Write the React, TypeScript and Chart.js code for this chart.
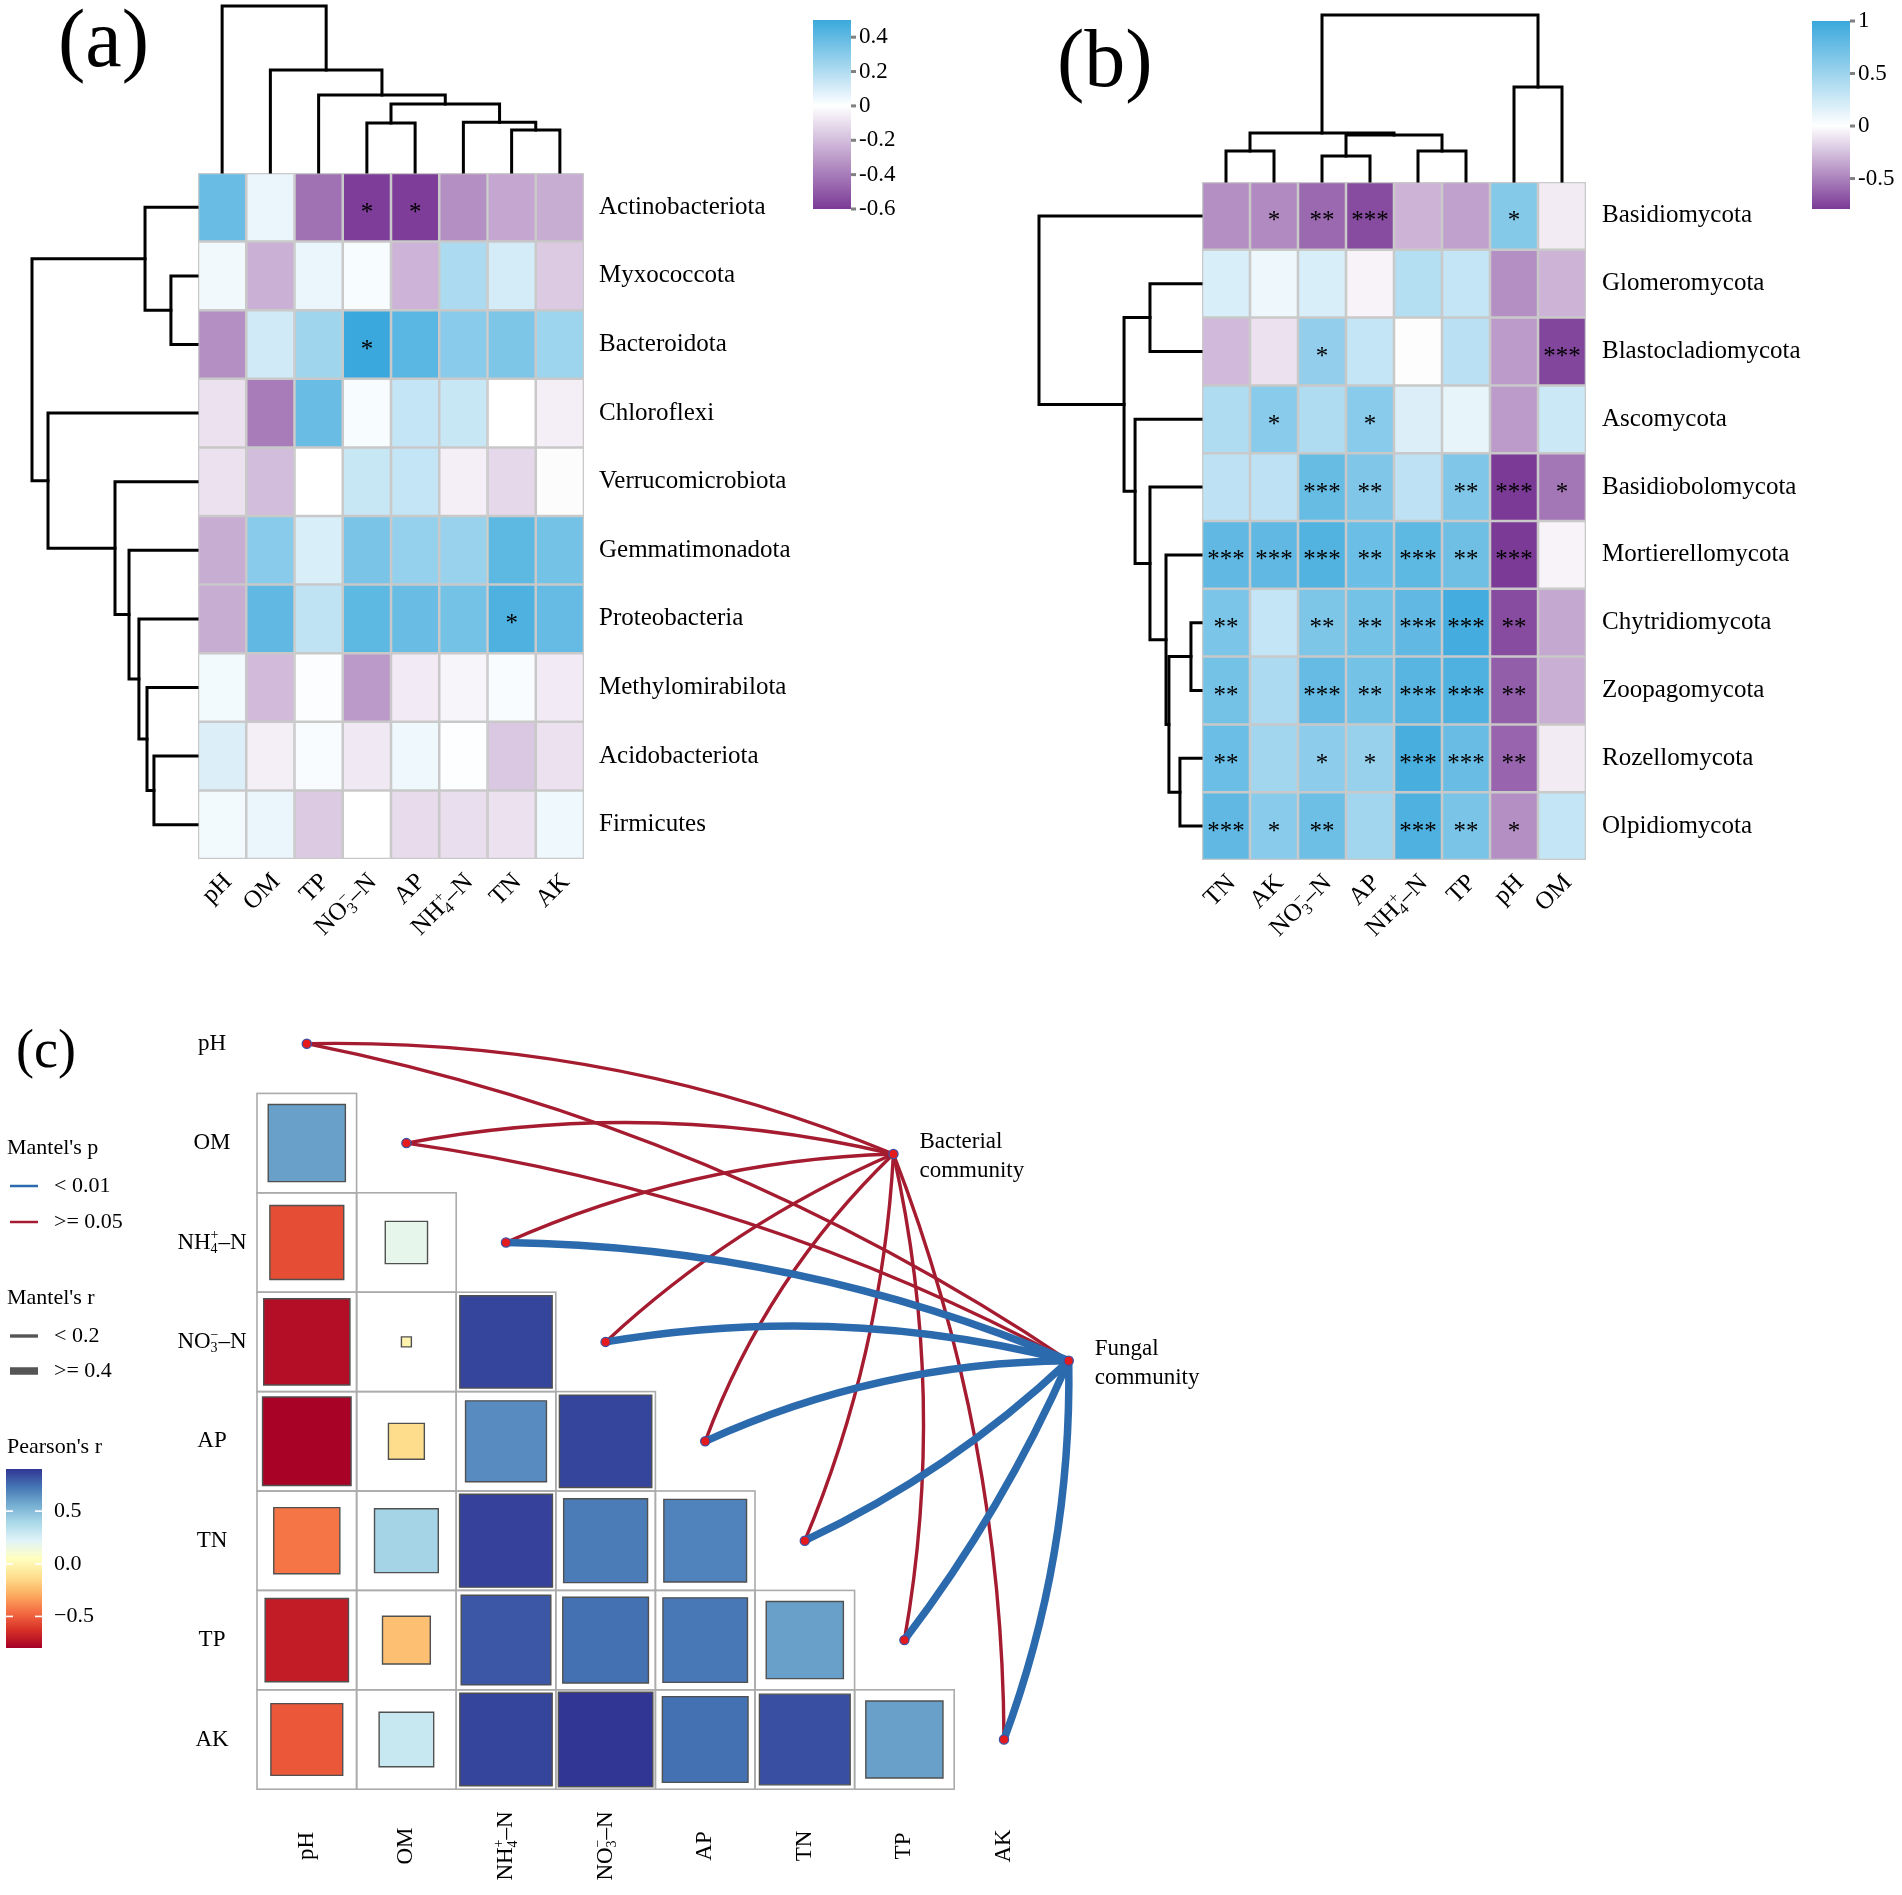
import React, { useEffect, useRef } from 'react';
import { Chart, registerables } from 'chart.js';

Chart.register(...registerables);

const W = 1902;
const H = 1895;
const SERIF = '"Liberation Serif", "Times New Roman", Times, serif';

// ---------------- panel (a): bacteria ----------------
const aColumns = ['pH', 'OM', 'TP', 'NO3−–N', 'AP', 'NH4+–N', 'TN', 'AK'];
const aRows = ['Actinobacteriota', 'Myxococcota', 'Bacteroidota', 'Chloroflexi', 'Verrucomicrobiota', 'Gemmatimonadota', 'Proteobacteria', 'Methylomirabilota', 'Acidobacteriota', 'Firmicutes'];
const aValues = [
  [0.38, 0.05, -0.43, -0.59, -0.59, -0.34, -0.27, -0.25],
  [0.035, -0.24, 0.05, 0.02, -0.23, 0.21, 0.11, -0.16],
  [-0.34, 0.12, 0.24, 0.5, 0.42, 0.3, 0.33, 0.25],
  [-0.09, -0.4, 0.38, 0.02, 0.15, 0.14, 0.0, -0.05],
  [-0.09, -0.2, 0.0, 0.14, 0.15, -0.05, -0.12, -0.01],
  [-0.25, 0.3, 0.1, 0.34, 0.27, 0.26, 0.41, 0.35],
  [-0.25, 0.4, 0.16, 0.41, 0.38, 0.35, 0.45, 0.39],
  [0.03, -0.21, 0.01, -0.31, -0.06, -0.03, 0.015, -0.06],
  [0.09, -0.05, 0.015, -0.07, 0.04, 0.005, -0.17, -0.09],
  [0.03, 0.05, -0.16, 0.0, -0.11, -0.1, -0.09, 0.04],
];
const aStars = [
  ['', '', '', '*', '*', '', '', ''],
  ['', '', '', '', '', '', '', ''],
  ['', '', '', '*', '', '', '', ''],
  ['', '', '', '', '', '', '', ''],
  ['', '', '', '', '', '', '', ''],
  ['', '', '', '', '', '', '', ''],
  ['', '', '', '', '', '', '*', ''],
  ['', '', '', '', '', '', '', ''],
  ['', '', '', '', '', '', '', ''],
  ['', '', '', '', '', '', '', ''],
];
// merges: [childA, childB, height]; leaves 0..n-1, merges numbered n, n+1, ...
const aColTree = [[3, 4, 0.295], [6, 7, 0.253], [5, 9, 0.3], [8, 10, 0.41], [2, 11, 0.464], [1, 12, 0.614], [0, 13, 1.0]];
const aRowTree = [[1, 2, 0.158], [0, 10, 0.315], [8, 9, 0.261], [7, 12, 0.303], [6, 13, 0.352], [5, 14, 0.412], [4, 15, 0.497], [3, 16, 0.903], [11, 17, 1.0]];
const aRange = [-0.6, 0.5];
const aTicks = [0.4, 0.2, 0, -0.2, -0.4, -0.6];
const aTickLabels = ['0.4', '0.2', '0', '-0.2', '-0.4', '-0.6'];

// ---------------- panel (b): fungi ----------------
const bColumns = ['TN', 'AK', 'NO3−–N', 'AP', 'NH4+–N', 'TP', 'pH', 'OM'];
const bRows = ['Basidiomycota', 'Glomeromycota', 'Blastocladiomycota', 'Ascomycota', 'Basidiobolomycota', 'Mortierellomycota', 'Chytridiomycota', 'Zoopagomycota', 'Rozellomycota', 'Olpidiomycota'];
const bValues = [
  [-0.45, -0.47, -0.6, -0.72, -0.3, -0.38, 0.62, -0.08],
  [0.2, 0.09, 0.2, -0.05, 0.38, 0.3, -0.45, -0.3],
  [-0.28, -0.12, 0.55, 0.3, -0.01, 0.35, -0.4, -0.74],
  [0.4, 0.6, 0.4, 0.6, 0.18, 0.12, -0.4, 0.27],
  [0.33, 0.33, 0.77, 0.65, 0.33, 0.65, -0.79, -0.55],
  [0.8, 0.8, 0.88, 0.75, 0.82, 0.73, -0.79, -0.05],
  [0.67, 0.3, 0.66, 0.7, 0.8, 0.95, -0.72, -0.35],
  [0.7, 0.42, 0.78, 0.7, 0.85, 0.9, -0.65, -0.32],
  [0.75, 0.47, 0.58, 0.53, 0.93, 0.76, -0.62, -0.08],
  [0.8, 0.6, 0.74, 0.47, 0.9, 0.68, -0.45, 0.3],
];
const bStars = [
  ['', '*', '**', '***', '', '', '*', ''],
  ['', '', '', '', '', '', '', ''],
  ['', '', '*', '', '', '', '', '***'],
  ['', '*', '', '*', '', '', '', ''],
  ['', '', '***', '**', '', '**', '***', '*'],
  ['***', '***', '***', '**', '***', '**', '***', ''],
  ['**', '', '**', '**', '***', '***', '**', ''],
  ['**', '', '***', '**', '***', '***', '**', ''],
  ['**', '', '*', '*', '***', '***', '**', ''],
  ['***', '*', '**', '', '***', '**', '*', ''],
];
const bColTree = [[0, 1, 0.181], [2, 3, 0.151], [4, 5, 0.181], [9, 10, 0.277], [8, 11, 0.289], [6, 7, 0.566], [12, 13, 1.0]];
const bRowTree = [[1, 2, 0.315], [6, 7, 0.062], [8, 9, 0.13], [11, 12, 0.198], [5, 13, 0.216], [4, 14, 0.315], [3, 15, 0.407], [10, 16, 0.475], [0, 17, 1.0]];
const bRange = [-0.79, 1.0];
const bTicks = [1, 0.5, 0, -0.5];
const bTickLabels = ['1', '0.5', '0', '-0.5'];

// ---------------- panel (c): Mantel test ----------------
const cVars = ['pH', 'OM', 'NH4+–N', 'NO3−–N', 'AP', 'TN', 'TP', 'AK'];
// Pearson's r, lower triangle: row i holds r with columns 0..i-1
const cPearson = [
  [],
  [0.6],
  [-0.55, 0.18],
  [-0.75, -0.01, 0.86],
  [-0.79, -0.13, 0.66, 0.86],
  [-0.44, 0.41, 0.87, 0.71, 0.69],
  [-0.7, -0.23, 0.81, 0.74, 0.72, 0.6],
  [-0.52, 0.3, 0.86, 0.9, 0.74, 0.83, 0.6],
];
const cRange = [-0.8, 0.9];
const cTicks = [0.5, 0.0, -0.5];
const cTickLabels = ['0.5', '0.0', '−0.5'];
const cSpecs = ['Bacterial community', 'Fungal community'];
const cSpecNodes = [{ x: 5.89, y: 1.11 }, { x: 7.65, y: 3.19 }];
const bactMantelP = ['>= 0.05', '>= 0.05', '>= 0.05', '>= 0.05', '>= 0.05', '>= 0.05', '>= 0.05', '>= 0.05'];
const bactMantelR = ['< 0.2', '< 0.2', '< 0.2', '< 0.2', '< 0.2', '< 0.2', '< 0.2', '< 0.2'];
const fungMantelP = ['>= 0.05', '>= 0.05', '< 0.01', '< 0.01', '< 0.01', '< 0.01', '< 0.01', '< 0.01'];
const fungMantelR = ['< 0.2', '< 0.2', '>= 0.4', '>= 0.4', '>= 0.4', '>= 0.4', '>= 0.4', '>= 0.4'];
const bactCurvature = [0.052, 0.053, 0.049, 0.043, 0.057, -0.043, -0.05, -0.046];
const fungCurvature = [0.05, 0.044, 0.049, 0.053, 0.053, -0.04, -0.03, -0.047];

// ---------------- colours ----------------
const PURPLE = [123, 58, 150];
const BLUE = [58, 168, 220];
const WHITE = [255, 255, 255];
const RDYLBU = ['#A50026', '#D73027', '#F46D43', '#FDAE61', '#FEE090', '#FFFFBF', '#E0F3F8', '#ABD9E9', '#74ADD1', '#4575B4', '#313695'];
const P_COLORS: Record<string, string> = { '< 0.01': '#2C6AAE', '>= 0.05': '#A51C30' };
const R_WIDTHS: Record<string, number> = { '< 0.2': 3.4, '>= 0.4': 7.5 };

function hexRgb(h: string) {
  return [parseInt(h.slice(1, 3), 16), parseInt(h.slice(3, 5), 16), parseInt(h.slice(5, 7), 16)];
}
function mix(a: number[], b: number[], t: number) {
  const c = a.map((v, i) => Math.round(v + (b[i] - v) * t));
  return `rgb(${c[0]},${c[1]},${c[2]})`;
}
function heatColor(v: number, lo: number, hi: number) {
  if (v < 0) return mix(WHITE, PURPLE, Math.min(1, v / lo));
  return mix(WHITE, BLUE, Math.min(1, v / hi));
}
function rdylbu(v: number) {
  const t = Math.max(0, Math.min(1, (v - cRange[0]) / (cRange[1] - cRange[0]))) * 10;
  const i = Math.min(9, Math.floor(t));
  return mix(hexRgb(RDYLBU[i]), hexRgb(RDYLBU[i + 1]), t - i);
}

// ---------------- rich text (sub/superscripts) ----------------
type Seg = { t?: string; sub?: string; sup?: string };
function segs(label: string): Seg[] {
  if (label === 'NH4+–N') return [{ t: 'NH' }, { sub: '4', sup: '+' }, { t: '–N' }];
  if (label === 'NO3−–N') return [{ t: 'NO' }, { sub: '3', sup: '−' }, { t: '–N' }];
  return [{ t: label }];
}
function drawRich(ctx: CanvasRenderingContext2D, label: string, x: number, y: number, size: number, align: string) {
  const ss = segs(label);
  const big = `${size}px ${SERIF}`;
  const small = `${Math.round(size * 0.62)}px ${SERIF}`;
  const widths = ss.map((s) => {
    if (s.t) { ctx.font = big; return ctx.measureText(s.t).width; }
    ctx.font = small;
    return Math.max(ctx.measureText(s.sub || '').width, ctx.measureText(s.sup || '').width);
  });
  const w = widths.reduce((p, c) => p + c, 0);
  let cx = align === 'left' ? x : align === 'right' ? x - w : x - w / 2;
  ctx.textAlign = 'left';
  ctx.textBaseline = 'middle';
  ss.forEach((s, i) => {
    if (s.t) {
      ctx.font = big;
      ctx.fillText(s.t, cx, y);
    } else {
      ctx.font = small;
      if (s.sub) ctx.fillText(s.sub, cx, y + size * 0.3);
      if (s.sup) ctx.fillText(s.sup, cx, y - size * 0.3);
    }
    cx += widths[i];
  });
}

// ---------------- dendrogram ----------------
function drawTree(ctx: CanvasRenderingContext2D, merges: number[][], leafPos: number[], base: number, px: number, dir: string) {
  const pos = leafPos.slice();
  const hs = leafPos.map(() => 0);
  const lvl = (h: number) => base - h * px;
  ctx.strokeStyle = '#000';
  ctx.lineWidth = 3;
  ctx.lineJoin = 'miter';
  ctx.lineCap = 'square';
  merges.forEach(([a, b, h]) => {
    ctx.beginPath();
    if (dir === 'up') {
      ctx.moveTo(pos[a], lvl(hs[a]));
      ctx.lineTo(pos[a], lvl(h));
      ctx.lineTo(pos[b], lvl(h));
      ctx.lineTo(pos[b], lvl(hs[b]));
    } else {
      ctx.moveTo(lvl(hs[a]), pos[a]);
      ctx.lineTo(lvl(h), pos[a]);
      ctx.lineTo(lvl(h), pos[b]);
      ctx.lineTo(lvl(hs[b]), pos[b]);
    }
    ctx.stroke();
    pos.push((pos[a] + pos[b]) / 2);
    hs.push(h);
  });
}

// ---------------- heatmap panels ----------------
interface HeatCfg {
  cols: string[]; rows: string[]; values: number[][]; stars: string[][];
  colTree: number[][]; rowTree: number[][]; range: number[]; ticks: number[]; tickLabels: string[];
  layout: any;
}

function heatDecor(cfg: HeatCfg) {
  return {
    id: 'heatDecor',
    afterDatasetsDraw(chart: any) {
      const ctx: CanvasRenderingContext2D = chart.ctx;
      const xs = chart.scales.x;
      const ys = chart.scales.y;
      const area = chart.chartArea;
      const L = cfg.layout;
      ctx.save();
      // significance stars
      ctx.fillStyle = '#000';
      ctx.font = `25px ${SERIF}`;
      ctx.textAlign = 'center';
      ctx.textBaseline = 'middle';
      cfg.stars.forEach((row, r) => row.forEach((s, c) => {
        if (s) ctx.fillText(s, xs.getPixelForValue(c), ys.getPixelForValue(r + 0.5) + 6);
      }));
      // row labels
      cfg.rows.forEach((name, r) => drawRich(ctx, name, area.right + L.labelGap, ys.getPixelForValue(r + 0.5), 25, 'left'));
      // column labels (45 deg)
      cfg.cols.forEach((name, c) => {
        ctx.save();
        ctx.translate(xs.getPixelForValue(c) + 6, area.bottom + 19);
        ctx.rotate(-Math.PI / 4);
        drawRich(ctx, name, 0, 0, 25, 'right');
        ctx.restore();
      });
      // dendrograms
      drawTree(ctx, cfg.colTree, cfg.cols.map((_, c) => xs.getPixelForValue(c)), area.top - 1, L.colTreePx, 'up');
      drawTree(ctx, cfg.rowTree, cfg.rows.map((_, r) => ys.getPixelForValue(r + 0.5)), area.left - 1, L.rowTreePx, 'left');
      // colour bar
      const [lo, hi] = cfg.range;
      const { x, w, y0, y1 } = L.bar;
      for (let y = y0; y < y1; y++) {
        const v = hi - ((y - y0 + 0.5) / (y1 - y0)) * (hi - lo);
        ctx.fillStyle = heatColor(v, lo, hi);
        ctx.fillRect(x, y, w, 1);
      }
      ctx.font = `23px ${SERIF}`;
      ctx.textAlign = 'left';
      ctx.textBaseline = 'middle';
      cfg.ticks.forEach((t, i) => {
        const ty = y0 + ((hi - t) / (hi - lo)) * (y1 - y0);
        ctx.fillStyle = '#808080';
        ctx.fillRect(x + w, ty - 1.5, 5, 3);
        ctx.fillStyle = '#000';
        ctx.fillText(cfg.tickLabels[i], x + w + 8, ty);
      });
      // panel tag
      ctx.font = `82px ${SERIF}`;
      ctx.textBaseline = 'alphabetic';
      ctx.fillText(L.tag, L.tagX, L.tagY);
      ctx.restore();
    },
  };
}

function makeHeatmap(canvas: HTMLCanvasElement, cfg: HeatCfg) {
  const L = cfg.layout;
  return new Chart(canvas, {
    type: 'bar',
    data: {
      labels: cfg.cols,
      datasets: cfg.rows.map((name, r) => ({
        label: name,
        data: cfg.cols.map(() => [r, r + 1]),
        backgroundColor: cfg.values[r].map((v) => heatColor(v, cfg.range[0], cfg.range[1])),
        borderColor: '#C9C9C9',
        borderWidth: 1.6,
        borderSkipped: false,
        barPercentage: 1,
        categoryPercentage: 1,
        grouped: false,
      })) as any,
    },
    options: {
      responsive: false,
      animation: false,
      devicePixelRatio: 1,
      events: [],
      layout: { padding: { left: L.left, top: L.top, right: W - L.right, bottom: H - L.bottom } },
      scales: {
        x: { display: false },
        y: { display: false, min: 0, max: cfg.rows.length, reverse: true },
      },
      plugins: { legend: { display: false }, tooltip: { enabled: false } },
    } as any,
    plugins: [heatDecor(cfg) as any],
  });
}

const A_CFG: HeatCfg = {
  cols: aColumns, rows: aRows, values: aValues, stars: aStars, colTree: aColTree, rowTree: aRowTree,
  range: aRange, ticks: aTicks, tickLabels: aTickLabels,
  layout: { left: 198, top: 173, right: 584, bottom: 859, colTreePx: 166, rowTreePx: 165, labelGap: 15,
    bar: { x: 813, w: 38, y0: 20, y1: 209 }, tag: '(a)', tagX: 58, tagY: 66 },
};
const B_CFG: HeatCfg = {
  cols: bColumns, rows: bRows, values: bValues, stars: bStars, colTree: bColTree, rowTree: bRowTree,
  range: bRange, ticks: bTicks, tickLabels: bTickLabels,
  layout: { left: 1202, top: 182, right: 1586, bottom: 860, colTreePx: 166, rowTreePx: 162, labelGap: 16,
    bar: { x: 1812, w: 38, y0: 21, y1: 209 }, tag: '(b)', tagX: 1057, tagY: 86 },
};

// ---------------- Mantel panel ----------------
const C_LAYOUT = { left: 257, top: 994, unitX: 99.6, unitY: 99.4 };

const mantelDecor = {
  id: 'mantelDecor',
  beforeDatasetsDraw(chart: any) {
    const ctx: CanvasRenderingContext2D = chart.ctx;
    const xs = chart.scales.x;
    const ys = chart.scales.y;
    ctx.save();
    // cell outlines of the lower triangle
    ctx.strokeStyle = '#ABABAB';
    ctx.lineWidth = 1.6;
    cPearson.forEach((row, i) => row.forEach((_, j) => {
      const x0 = xs.getPixelForValue(j - 0.5);
      const x1 = xs.getPixelForValue(j + 0.5);
      const y0 = ys.getPixelForValue(i - 0.5);
      const y1 = ys.getPixelForValue(i + 0.5);
      ctx.strokeRect(x0, y0, x1 - x0, y1 - y0);
    }));
    // Mantel links
    const links: any[] = [];
    cVars.forEach((_, i) => {
      links.push({ i, s: 0, p: bactMantelP[i], r: bactMantelR[i], k: bactCurvature[i] });
      links.push({ i, s: 1, p: fungMantelP[i], r: fungMantelR[i], k: fungCurvature[i] });
    });
    links.sort((a, b) => R_WIDTHS[a.r] - R_WIDTHS[b.r]);
    ctx.lineCap = 'round';
    links.forEach((l) => {
      const sx = xs.getPixelForValue(l.i);
      const sy = ys.getPixelForValue(l.i);
      const ex = xs.getPixelForValue(cSpecNodes[l.s].x);
      const ey = ys.getPixelForValue(cSpecNodes[l.s].y);
      const dx = ex - sx;
      const dy = ey - sy;
      const len = Math.hypot(dx, dy);
      const nx = dy / len;
      const ny = -dx / len;
      const off = 2 * l.k * len;
      ctx.strokeStyle = P_COLORS[l.p];
      ctx.lineWidth = R_WIDTHS[l.r];
      ctx.beginPath();
      ctx.moveTo(sx, sy);
      ctx.quadraticCurveTo((sx + ex) / 2 + nx * off, (sy + ey) / 2 + ny * off, ex, ey);
      ctx.stroke();
    });
    ctx.restore();
  },
  afterDatasetsDraw(chart: any) {
    const ctx: CanvasRenderingContext2D = chart.ctx;
    const xs = chart.scales.x;
    const ys = chart.scales.y;
    ctx.save();
    ctx.fillStyle = '#000';
    // axis labels
    cVars.forEach((v, i) => {
      drawRich(ctx, v, 212, ys.getPixelForValue(i), 23, 'center');
      ctx.save();
      ctx.translate(xs.getPixelForValue(i), 1846);
      ctx.rotate(-Math.PI / 2);
      drawRich(ctx, v, 0, 0, 23, 'center');
      ctx.restore();
    });
    // community labels
    ctx.font = `23px ${SERIF}`;
    ctx.textAlign = 'left';
    ctx.textBaseline = 'middle';
    cSpecs.forEach((name, s) => {
      const px = xs.getPixelForValue(cSpecNodes[s].x) + 26;
      const py = ys.getPixelForValue(cSpecNodes[s].y);
      const words = name.split(' ');
      ctx.fillText(words[0], px, py - 12);
      ctx.fillText(words[1], px, py + 17);
    });
    // legend
    ctx.font = `22px ${SERIF}`;
    ctx.fillText("Mantel's p", 7, 1148);
    const pKeys = ['< 0.01', '>= 0.05'];
    pKeys.forEach((k, i) => {
      const y = 1186 + i * 36;
      ctx.strokeStyle = P_COLORS[k];
      ctx.lineWidth = 2.5;
      ctx.beginPath();
      ctx.moveTo(10, y);
      ctx.lineTo(38, y);
      ctx.stroke();
      ctx.fillText(k, 54, y);
    });
    ctx.fillText("Mantel's r", 7, 1298);
    const rKeys = ['< 0.2', '>= 0.4'];
    rKeys.forEach((k, i) => {
      const y = 1336 + i * 35;
      ctx.strokeStyle = '#555555';
      ctx.lineWidth = R_WIDTHS[k];
      ctx.beginPath();
      ctx.moveTo(10, y);
      ctx.lineTo(38, y);
      ctx.stroke();
      ctx.fillText(k, 54, y);
    });
    ctx.fillText("Pearson's r", 7, 1447);
    const bx = 6, bw = 36, by0 = 1469, by1 = 1648;
    for (let y = by0; y < by1; y++) {
      const v = cRange[1] - ((y - by0 + 0.5) / (by1 - by0)) * (cRange[1] - cRange[0]);
      ctx.fillStyle = rdylbu(v);
      ctx.fillRect(bx, y, bw, 1);
    }
    cTicks.forEach((t, i) => {
      const ty = by0 + ((cRange[1] - t) / (cRange[1] - cRange[0])) * (by1 - by0);
      ctx.fillStyle = '#FFFFFF';
      ctx.fillRect(bx, ty - 0.8, 7, 1.6);
      ctx.fillRect(bx + bw - 7, ty - 0.8, 7, 1.6);
      ctx.fillStyle = '#000';
      ctx.fillText(cTickLabels[i], 54, ty);
    });
    // tag
    ctx.font = `54px ${SERIF}`;
    ctx.textBaseline = 'alphabetic';
    ctx.fillText('(c)', 16, 1067);
    ctx.restore();
  },
};

function makeMantel(canvas: HTMLCanvasElement) {
  const squares: any[] = [];
  cPearson.forEach((row, i) => row.forEach((r, j) => squares.push({ x: j, y: i, r })));
  const nodes: any[] = cVars.map((_, i) => ({ x: i, y: i })).concat(cSpecNodes);
  const xMin = -0.5, xMax = 8.0, yMin = -0.5, yMax = 7.5;
  const right = C_LAYOUT.left + (xMax - xMin) * C_LAYOUT.unitX;
  const bottom = C_LAYOUT.top + (yMax - yMin) * C_LAYOUT.unitY;
  return new Chart(canvas, {
    type: 'scatter',
    data: {
      datasets: [
        {
          label: 'nodes', data: nodes, order: 0, clip: false,
          pointStyle: 'circle', pointRadius: 4.6,
          pointBackgroundColor: '#E41A1C', pointBorderColor: '#3F51A3', pointBorderWidth: 1.3,
        },
        {
          label: "Pearson's r", data: squares, order: 1,
          pointStyle: 'rect',
          pointRadius: (c: any) => {
            if (!c.raw) return 0;
            const sx = c.chart.scales.x;
            const cell = Math.abs(sx.getPixelForValue(1) - sx.getPixelForValue(0));
            return (Math.sqrt(Math.abs(c.raw.r)) * cell) / Math.SQRT2;
          },
          pointBackgroundColor: (c: any) => (c.raw ? rdylbu(c.raw.r) : '#fff'),
          pointBorderColor: '#505050', pointBorderWidth: 1.4,
        },
      ] as any,
    },
    options: {
      responsive: false,
      animation: false,
      devicePixelRatio: 1,
      events: [],
      layout: { padding: { left: C_LAYOUT.left, top: C_LAYOUT.top, right: W - right, bottom: H - bottom } },
      scales: {
        x: { type: 'linear', display: false, min: xMin, max: xMax },
        y: { type: 'linear', display: false, min: yMin, max: yMax, reverse: true },
      },
      plugins: { legend: { display: false }, tooltip: { enabled: false } },
    } as any,
    plugins: [mantelDecor as any],
  });
}

export default function App() {
  const aRef = useRef<HTMLCanvasElement>(null);
  const bRef = useRef<HTMLCanvasElement>(null);
  const cRef = useRef<HTMLCanvasElement>(null);
  useEffect(() => {
    document.documentElement.style.overflow = 'hidden';
    const charts = [
      makeHeatmap(aRef.current!, A_CFG),
      makeHeatmap(bRef.current!, B_CFG),
      makeMantel(cRef.current!),
    ];
    return () => charts.forEach((c) => c.destroy());
  }, []);
  const cs: React.CSSProperties = { position: 'absolute', left: 0, top: 0, width: W, height: H };
  return (
    <div style={{ position: 'absolute', left: 0, top: 0, width: W, height: H, overflow: 'hidden', background: '#fff' }}>
      <canvas ref={aRef} width={W} height={H} style={cs} />
      <canvas ref={bRef} width={W} height={H} style={cs} />
      <canvas ref={cRef} width={W} height={H} style={cs} />
    </div>
  );
}
